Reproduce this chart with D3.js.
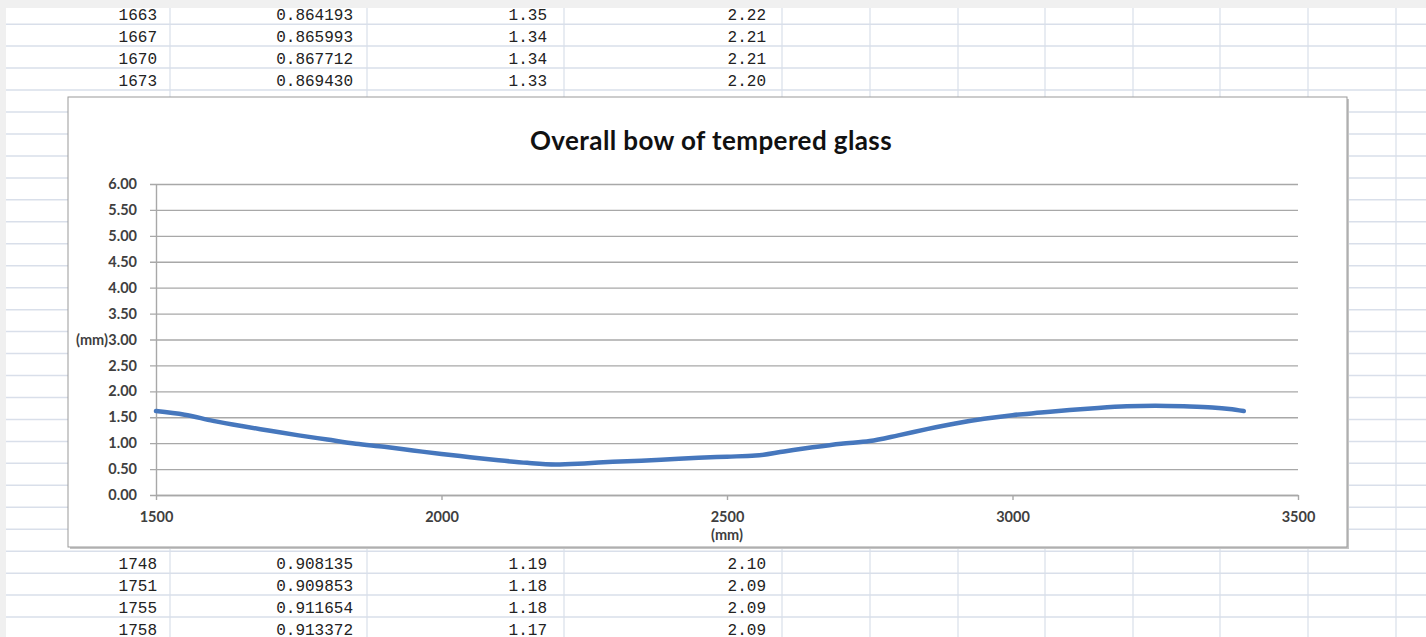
<!DOCTYPE html>
<html>
<head>
<meta charset="utf-8">
<script src="https://cdn.jsdelivr.net/npm/d3@7"></script>
<style>
  html, body { margin: 0; padding: 0; background: #f0f0f0; }
  svg { display: block; }
</style>
</head>
<body>
<div id="chart"></div>
<script>
var width = 1426, height = 637;

// spreadsheet rows seen above and below the chart
const topIds    = [1663, 1667, 1670, 1673];
const topRatio  = ["0.864193", "0.865993", "0.867712", "0.869430"];
const topC      = ["1.35", "1.34", "1.34", "1.33"];
const topD      = ["2.22", "2.21", "2.21", "2.20"];

const bottomIds   = [1748, 1751, 1755, 1758];
const bottomRatio = ["0.908135", "0.909853", "0.911654", "0.913372"];
const bottomC     = ["1.19", "1.18", "1.18", "1.17"];
const bottomD     = ["2.10", "2.09", "2.09", "2.09"];

// chart series (position in mm, bow in mm)
const posMm = [1500, 1550, 1600, 1650, 1700, 1750, 1800, 1850, 1900, 1950,
               2000, 2050, 2100, 2150, 2200, 2250, 2300, 2350, 2400, 2450,
               2500, 2550, 2600, 2650, 2700, 2750, 2800, 2850, 2900, 2950,
               3000, 3050, 3100, 3150, 3200, 3250, 3300, 3350, 3380, 3405];
const bowMm = [1.62, 1.55, 1.43, 1.33, 1.24, 1.15, 1.07, 0.99, 0.93, 0.86,
               0.79, 0.73, 0.67, 0.62, 0.59, 0.61, 0.64, 0.66, 0.69, 0.72,
               0.74, 0.76, 0.84, 0.92, 0.99, 1.04, 1.15, 1.27, 1.38, 1.47,
               1.54, 1.59, 1.64, 1.68, 1.71, 1.72, 1.71, 1.69, 1.66, 1.62];

const yTicks = d3.range(0, 6.001, 0.5);
const xTicks = [1500, 2000, 2500, 3000, 3500];

const svg = d3.select("#chart").append("svg")
    .attr("width", width)
    .attr("height", height);

// ---- sheet background ----
svg.append("rect").attr("width", width).attr("height", height).attr("fill", "#f0f0f0");
svg.append("rect").attr("x", 6).attr("y", 8).attr("width", width - 6).attr("height", height - 8)
    .attr("fill", "#fff");

const rowY = d3.scaleLinear().domain([0, 1]).range([2.2, 24.16]);
const colEdges = [170, 367, 564, 782, 870, 958, 1045, 1133, 1220, 1308, 1396];
const textRight = [157, 353, 547, 766];

const sheet = svg.append("g");
sheet.selectAll("line.row")
    .data(d3.range(1, 30))
    .join("line")
    .attr("class", "row")
    .attr("x1", 6).attr("x2", width)
    .attr("y1", d => rowY(d)).attr("y2", d => rowY(d))
    .attr("stroke", "#d9dfea").attr("stroke-width", 1.5);
sheet.selectAll("line.col")
    .data(colEdges)
    .join("line")
    .attr("class", "col")
    .attr("x1", d => d).attr("x2", d => d)
    .attr("y1", 8).attr("y2", height)
    .attr("stroke", "#d9dfea").attr("stroke-width", 1.2);

function drawRows(ids, ratio, c, d, firstSlot) {
  ids.forEach(function(id, i) {
    var base = rowY(firstSlot + i + 1) - 4;
    [String(id), ratio[i], c[i], d[i]].forEach(function(t, j) {
      sheet.append("text")
          .attr("x", textRight[j])
          .attr("y", base)
          .attr("text-anchor", "end")
          .attr("font-family", "Liberation Mono, monospace")
          .attr("font-size", "16px")
          .attr("fill", "#222")
          .text(t);
    });
  });
}
drawRows(topIds, topRatio, topC, topD, 0);
drawRows(bottomIds, bottomRatio, bottomC, bottomD, 25);

// ---- chart frame ----
const frame = {x: 68, y: 97, w: 1279, h: 450};
svg.append("rect")
    .attr("x", frame.x + 2).attr("y", frame.y + 2)
    .attr("width", frame.w).attr("height", frame.h)
    .attr("fill", "#c4c4c4");
svg.append("rect")
    .attr("x", frame.x).attr("y", frame.y)
    .attr("width", frame.w).attr("height", frame.h)
    .attr("fill", "#fff")
    .attr("stroke", "#9a9a9a").attr("stroke-width", 1);

const plot = {left: 156, right: 1298, top: 184, bottom: 495};

const x = d3.scaleLinear().domain([1500, 3500]).range([plot.left, plot.right]);
const y = d3.scaleLinear().domain([0, 6]).range([plot.bottom, plot.top]);

const yAxis = svg.append("g")
    .attr("transform", "translate(" + plot.left + ",0)")
    .call(d3.axisLeft(y).tickValues(yTicks).tickFormat(d3.format(".2f"))
          .tickSize(6).tickSizeOuter(0).tickPadding(13));
yAxis.selectAll(".tick line")
    .attr("x1", -6).attr("x2", plot.right - plot.left)
    .attr("stroke", "#a8a8a8").attr("stroke-width", 1.4);
yAxis.select(".domain").attr("stroke", "#a8a8a8").attr("stroke-width", 1.4);

const xAxis = svg.append("g")
    .attr("transform", "translate(0," + plot.bottom + ")")
    .call(d3.axisBottom(x).tickValues(xTicks).tickFormat(d3.format("d"))
          .tickSize(5).tickSizeOuter(0).tickPadding(12));
xAxis.selectAll(".tick line").attr("stroke", "#a8a8a8").attr("stroke-width", 1.4);
xAxis.select(".domain").attr("stroke", "#a8a8a8").attr("stroke-width", 1.4);

svg.selectAll(".tick text")
    .attr("font-family", "Lato, sans-serif")
    .attr("font-size", "14.5px")
    .attr("font-weight", "bold")
    .attr("fill", "#404040");

// title and axis titles
svg.append("text")
    .attr("x", 711).attr("y", 150)
    .attr("text-anchor", "middle")
    .attr("font-family", "Lato, sans-serif")
    .attr("font-size", "26px")
    .attr("font-weight", "bold")
    .attr("letter-spacing", "0.4px")
    .attr("fill", "#111")
    .text("Overall bow of tempered glass");

svg.append("text")
    .attr("x", 108).attr("y", y(3))
    .attr("dy", "0.36em")
    .attr("text-anchor", "end")
    .attr("font-family", "Lato, sans-serif")
    .attr("font-size", "14.5px")
    .attr("font-weight", "bold")
    .attr("fill", "#404040")
    .text("(mm)");

svg.append("text")
    .attr("x", x(2500)).attr("y", 540)
    .attr("text-anchor", "middle")
    .attr("font-family", "Lato, sans-serif")
    .attr("font-size", "14.5px")
    .attr("font-weight", "bold")
    .attr("fill", "#404040")
    .text("(mm)");

// series
const series = posMm.map(function(p, i) { return {x: p, y: bowMm[i]}; });
const line = d3.line()
    .x(d => x(d.x))
    .y(d => y(d.y))
    .curve(d3.curveMonotoneX);

svg.append("path")
    .datum(series)
    .attr("fill", "none")
    .attr("stroke", "#4677bd")
    .attr("stroke-width", 4.5)
    .attr("stroke-linecap", "round")
    .attr("d", line);
</script>
</body>
</html>
